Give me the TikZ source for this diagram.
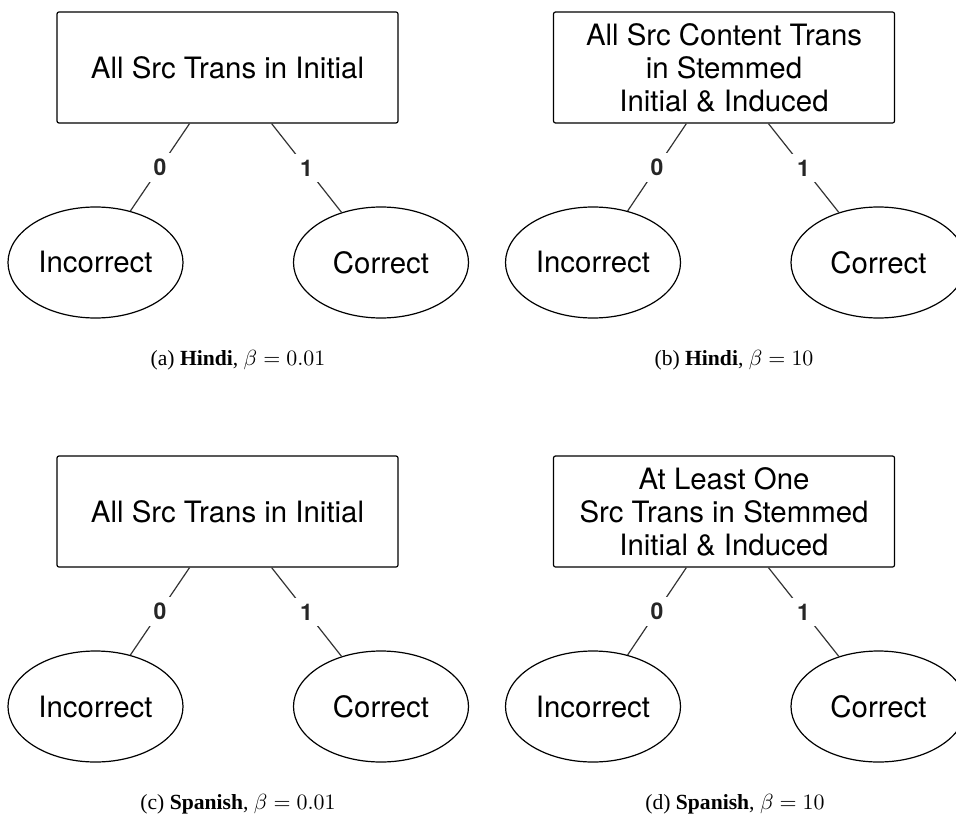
\documentclass[tikz,border=0pt]{standalone}
\usepackage[no-math]{fontspec}
\setmainfont{Liberation Serif}
\setsansfont{TeX Gyre Heros}
\usepackage{amsmath}
\usetikzlibrary{shapes.geometric}

\tikzset{
  testbox/.style={draw, rounded corners=1pt, line width=0.6pt, minimum width=170.5pt,
    minimum height=55.5pt, inner sep=0pt, align=center,
    font=\sffamily\fontsize{14.7}{16.5}\selectfont},
  leaf/.style={draw, ellipse, line width=0.6pt, minimum width=87.5pt,
    minimum height=55.5pt, inner sep=0pt, font=\sffamily\fontsize{14.7}{16.5}\selectfont},
  branch/.style={line width=0.6pt, black!80},
  blabel/.style={fill=white, inner sep=3pt, text=black!85,
    font=\sffamily\bfseries\fontsize{11.5}{13}\selectfont},
  capt/.style={font=\fontsize{10.8}{13}\selectfont}
}

\begin{document}
\begin{tikzpicture}[x=0.5pt, y=-0.5pt]
  \useasboundingbox (0,0) rectangle (956,818);

  % (a) Hindi, small beta
  \node[testbox] (aroot) at (227.5,67.5) {All Src Trans in Initial};
  \node[leaf] (ainc) at (95.5,262.5) {Incorrect};
  \node[leaf] (acor) at (381,262.5) {Correct};
  \draw[branch] (aroot) -- node[blabel] {0} (ainc);
  \draw[branch] (aroot) -- node[blabel] {1} (acor);
  \node[capt] (acap) at (238,360) {(a) \textbf{Hindi}, $\beta = 0.01$};

  % (b) Hindi, large beta
  \node[testbox] (broot) at (724,67.5) {All Src Content Trans\\in Stemmed\\Initial \& Induced};
  \node[leaf] (binc) at (593,262.5) {Incorrect};
  \node[leaf] (bcor) at (878.5,262.5) {Correct};
  \draw[branch] (broot) -- node[blabel] {0} (binc);
  \draw[branch] (broot) -- node[blabel] {1} (bcor);
  \node[capt] (bcap) at (734,360) {(b) \textbf{Hindi}, $\beta = 10$};

  % (c) Spanish, small beta
  \node[testbox] (croot) at (227.5,511.5) {All Src Trans in Initial};
  \node[leaf] (cinc) at (95.5,706.5) {Incorrect};
  \node[leaf] (ccor) at (381,706.5) {Correct};
  \draw[branch] (croot) -- node[blabel] {0} (cinc);
  \draw[branch] (croot) -- node[blabel] {1} (ccor);
  \node[capt] (ccap) at (238,804) {(c) \textbf{Spanish}, $\beta = 0.01$};

  % (d) Spanish, large beta
  \node[testbox] (droot) at (724,511.5) {At Least One\\Src Trans in Stemmed\\Initial \& Induced};
  \node[leaf] (dinc) at (593,706.5) {Incorrect};
  \node[leaf] (dcor) at (878.5,706.5) {Correct};
  \draw[branch] (droot) -- node[blabel] {0} (dinc);
  \draw[branch] (droot) -- node[blabel] {1} (dcor);
  \node[capt] (dcap) at (735,804) {(d) \textbf{Spanish}, $\beta = 10$};
\end{tikzpicture}
\end{document}
